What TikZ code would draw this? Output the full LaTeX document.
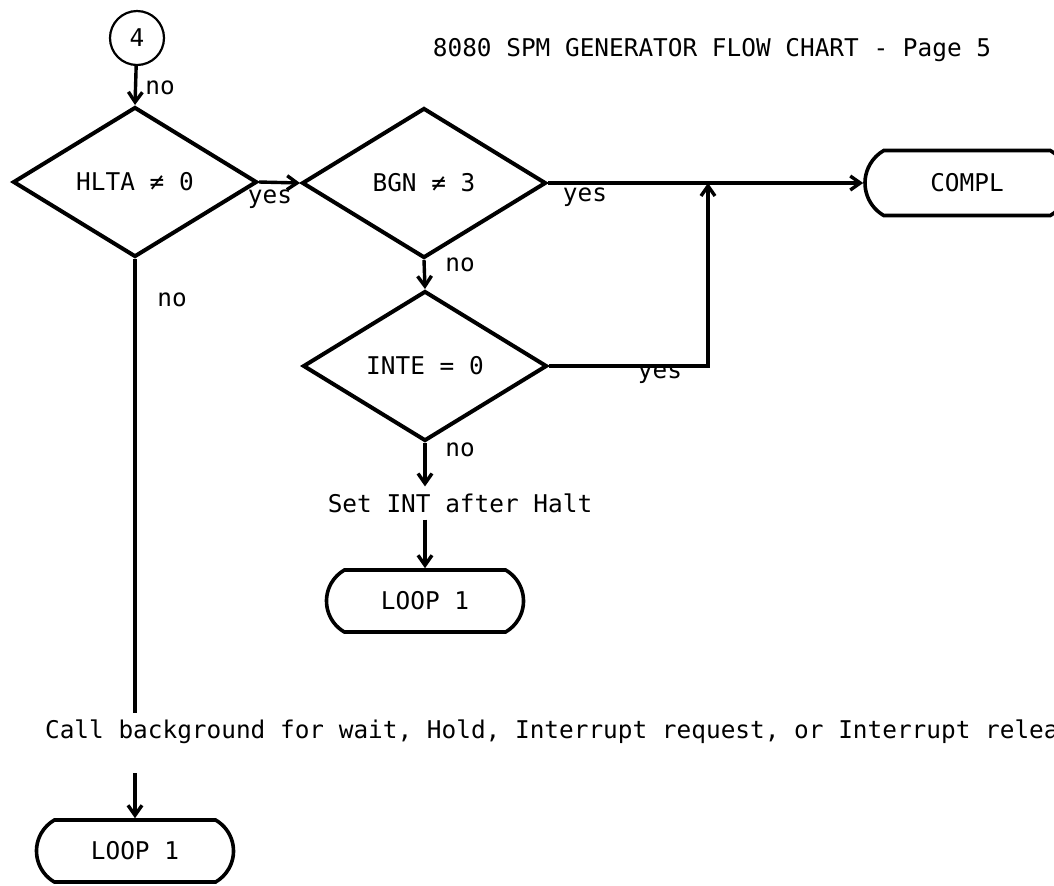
\documentclass[tikz,border=0pt]{standalone}
\usepackage{fontspec}
\setmonofont{DejaVu Sans Mono}
\usetikzlibrary{shapes.geometric,shapes.misc,arrows.meta}

\tikzset{
  decision/.style={draw, diamond, line width=2pt, minimum width=122pt, minimum height=75pt, inner sep=0pt},
  terminal/.style={draw, rounded rectangle, rounded rectangle arc length=120, line width=1.8pt, minimum width=98.5pt, minimum height=31pt, inner sep=0pt},
  connector/.style={draw, circle, line width=1.1pt, minimum size=27pt, inner sep=0pt},
  flow/.style={line width=1.7pt},
  tag/.style={inner sep=1pt},
}

\begin{document}
\begin{tikzpicture}[x=0.5pt, y=-0.5pt, font=\ttfamily\fontsize{12.2}{14}\selectfont, >={Straight Barb[length=5pt,width=7pt]}]
			\useasboundingbox (0,0) rectangle (1054,885);
			\clip (0,0) rectangle (1054,885);

			\node[connector] (four) at (137,38) {4};
			\node[] (title) at (712,50) {8080 SPM GENERATOR FLOW CHART - Page 5};

			\node[decision] (hlta) at (135,182) {HLTA ≠ 0};
			\node[decision] (bgn) at (424,183) {BGN ≠ 3};
			\node[decision] (inte) at (425,366) {INTE = 0};
			\node[terminal, minimum width=102pt, minimum height=32.5pt] (compl) at (967,183) {COMPL};
			\coordinate (join) at (708,183);

			\node[] (setint) at (460,503) {Set INT after Halt};
			\node[terminal] (loopa) at (425,601) {LOOP 1};

			\node[anchor=west] (callbg) at (38,732) {Call background for wait, Hold, Interrupt request, or Interrupt release};
			\node[terminal] (loopb) at (135,851) {LOOP 1};

			\draw[flow, ->] (four) -- (hlta.north);
			\node[tag] (noa) at (160,88) {no};

			\draw[flow, ->] (hlta.east) -- (bgn.west);
			\node[tag] (yesa) at (270,199) {yes};
			\draw[flow] (hlta.south) -- (hlta.south |- callbg.north);
			\node[tag] (nob) at (172,300) {no};

			\draw[flow, ->] (bgn.east) -- (compl.west);
			\node[tag] (yesb) at (585,197) {yes};
			\draw[flow, ->] (bgn.south) -- (inte.north);
			\node[tag] (noc) at (460,265) {no};

			\draw[flow, ->] (inte.east) -| (join);
			\node[tag] (yesc) at (660,374) {yes};
			\draw[flow, ->] (inte.south) -- (inte.south |- setint.north);
			\node[tag] (nod) at (460,450) {no};

			\draw[flow, ->] (setint.south -| loopa.north) -- (loopa.north);
			\draw[flow, ->, shorten <=11pt] (callbg.south -| loopb.north) -- (loopb.north);
		\end{tikzpicture}
\end{document}
